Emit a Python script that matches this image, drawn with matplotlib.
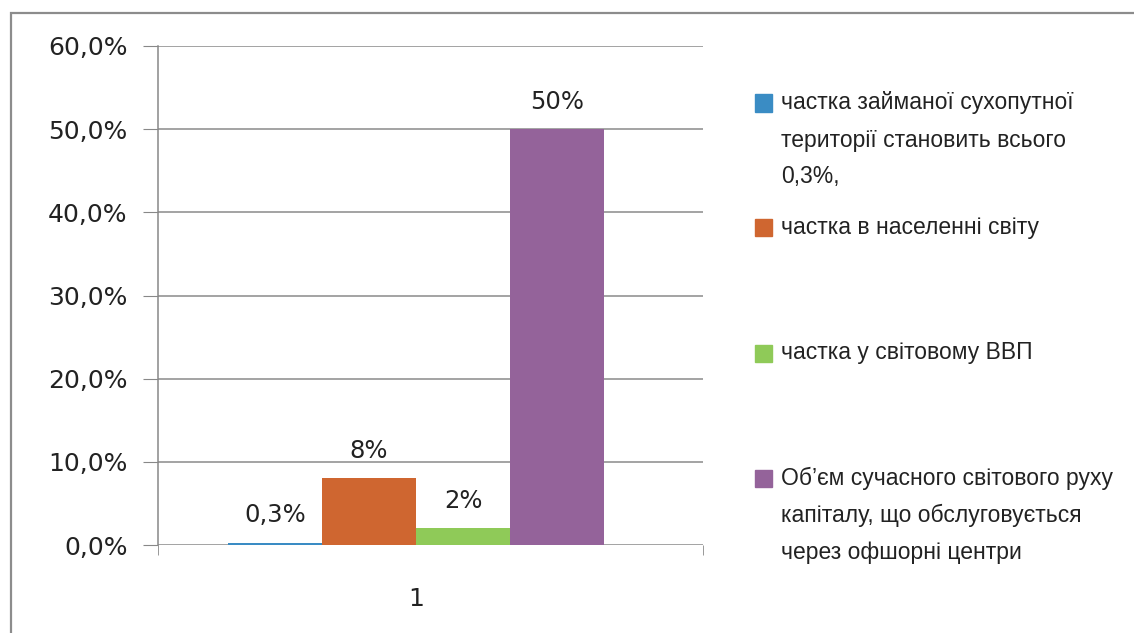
import matplotlib.pyplot as plt
from matplotlib.patches import Rectangle
from matplotlib import font_manager

# DATA
values = [0.3, 8.0, 2.0, 50.0]
value_labels = ["0,3%", "8%", "2%", "50%"]
colors = ["#3a8cc4", "#cf6630", "#8fca58", "#94639a"]
legend_lines = [
    ["частка займаної сухопутної", "території становить всього", "0,3%,"],
    ["частка в населенні світу"],
    ["частка у світовому ВВП"],
    ["Об’єм сучасного світового руху", "капіталу, що обслуговується", "через офшорні центри"],
]
yticks = [0, 10, 20, 30, 40, 50, 60]
ytick_labels = ["0,0%", "10,0%", "20,0%", "30,0%", "40,0%", "50,0%", "60,0%"]

names = {f.name for f in font_manager.fontManager.ttflist}
leg_font = "Liberation Sans Narrow" if "Liberation Sans Narrow" in names else "Liberation Sans"

W, H = 1134, 633
fig = plt.figure(figsize=(W / 100, H / 100), dpi=100)

# outer frame (only left/top visible)
fig.patches.append(Rectangle((11 / W, -0.1), 1.2, 1 - 13 / H + 0.1, transform=fig.transFigure,
                             fill=False, edgecolor="#8c8c8c", lw=1.6))

ax = fig.add_axes([158 / W, 1 - 545 / H, (703 - 158) / W, (545 - 46) / H])
unit = 703 - 158
xlim = (1 - (416 - 158) / unit, 1 + (703 - 416) / unit)
bw = 94 / unit
offsets = [-1.5, -0.5, 0.5, 1.5]
for i, v in enumerate(values):
    x = 1 + offsets[i] * bw
    ax.bar(x, v, width=bw, color=colors[i], zorder=3)
    ax.annotate(value_labels[i], (x, v), xytext=(0, 19.5), textcoords="offset points",
                ha="center", va="center", fontsize=17.5, color="#222222")

ax.set_xlim(*xlim)
ax.set_ylim(0, 60)
ax.set_yticks(yticks)
ax.set_yticklabels(ytick_labels, fontsize=18, color="#222222")
ax.set_xticks([1])
ax.set_xticklabels(["1"], fontsize=18, color="#222222")
ax.set_xticks([xlim[0], xlim[1]], minor=True)
ax.tick_params(axis="x", which="major", length=0, pad=30)
ax.tick_params(axis="x", which="minor", length=7, color="#888888", direction="out")
ax.tick_params(axis="y", length=11, color="#888888", pad=11)
ax.yaxis.grid(True, color="#8a8a8a", lw=1.1, zorder=0)
for s in ["top", "right", "bottom"]:
    ax.spines[s].set_visible(False)
ax.spines["left"].set_color("#888888")
ax.spines["left"].set_linewidth(1.1)

# legend
entry_y = [103, 228, 353, 478]
step = 37
for i, lines in enumerate(legend_lines):
    y0 = entry_y[i]
    fig.patches.append(Rectangle((755 / W, 1 - (y0 + 8.5) / H), 17 / W, 17 / H,
                                 transform=fig.transFigure, color=colors[i]))
    for j, line in enumerate(lines):
        fig.text(781 / W, 1 - (y0 + j * step) / H, line, fontsize=16.5, family=leg_font,
                 va="center", ha="left", color="#222222")

fig.savefig("out.png", dpi=100)
